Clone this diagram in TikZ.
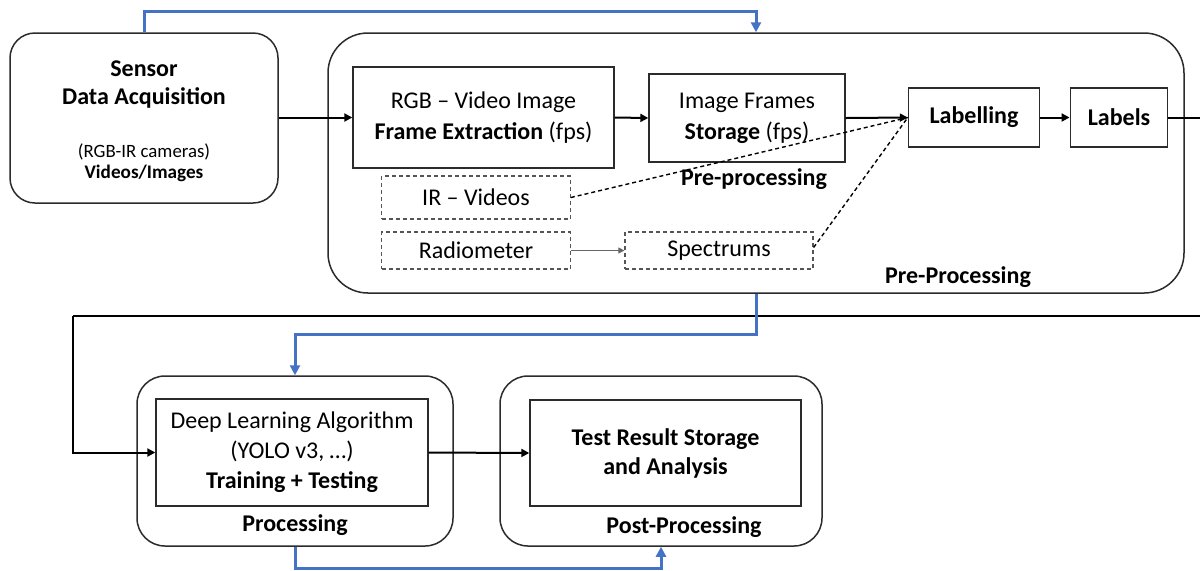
\documentclass[tikz,border=0pt]{standalone}
\usepackage{fontspec}
\setmainfont{Carlito}
\usetikzlibrary{arrows.meta}
\definecolor{flowblue}{HTML}{4472C4}
\definecolor{boxline}{HTML}{2B2B2B}
\begin{document}
\begin{tikzpicture}[x=0.5pt,y=-0.5pt,
  font=\fontsize{12}{14.5}\selectfont,
  roundbox/.style={draw=boxline,line width=0.75pt,rounded corners=#1,inner sep=0pt},
  plainbox/.style={draw=boxline,line width=0.7pt,inner sep=0pt,align=center},
  dashbox/.style={draw=boxline!80,line width=0.6pt,dash pattern=on 2pt off 1.5pt,inner sep=0pt,align=center},
  flow/.style={line width=1pt,draw=black,-{Triangle[length=4pt,width=4pt]}},
  blueflow/.style={line width=1.5pt,draw=flowblue,-{Triangle[length=5pt,width=5pt]}},
  dashline/.style={line width=0.7pt,dash pattern=on 2pt off 1.5pt},
  lbl/.style={font=\fontsize{12}{14.5}\selectfont\bfseries}
]
\useasboundingbox (0,0) rectangle (1200,570);
% big containers
\node[roundbox=12.5pt,minimum width=134pt,minimum height=85pt] (sensor) at (144,118) {};
\node[roundbox=20pt,minimum width=428pt,minimum height=130pt] (pre) at (756,163) {};
\node[roundbox=14pt,minimum width=158pt,minimum height=85pt] (proc) at (295,461) {};
\node[roundbox=14pt,minimum width=161pt,minimum height=85pt] (post) at (661,461) {};
% sensor texts
\node[lbl] (sensT) at (144,69) {Sensor};
\node[lbl] (sensD) at (144,98) {Data Acquisition};
\node[font=\fontsize{9.4}{11}\selectfont] (sensC) at (144,152) {(RGB-IR cameras)};
\node[font=\fontsize{9.6}{11}\selectfont\bfseries] (sensV) at (144,173) {Videos/Images};
% pre-processing boxes
\node[plainbox,minimum width=130.5pt,minimum height=50.5pt] (rgb) at (483.5,117.5)
  {\raisebox{-1pt}{}RGB -- Video Image\\[1pt]\textbf{Frame Extraction} (fps)};
\node[plainbox,minimum width=98pt,minimum height=44pt] (frames) at (747,118)
  {Image Frames\\[1pt]\textbf{Storage} (fps)};
\node[plainbox,minimum width=65.5pt,minimum height=29.5pt,font=\fontsize{12}{14.5}\selectfont\bfseries] (labelling) at (974,117.5) {Labelling};
\node[plainbox,minimum width=48.75pt,minimum height=29.5pt,font=\fontsize{12}{14.5}\selectfont\bfseries] (labels) at (1119,117.5) {Labels};
\node[dashbox,minimum width=94.25pt,minimum height=21.5pt] (ir) at (476,197.5) {IR -- Videos};
\node[dashbox,minimum width=94.25pt,minimum height=18.5pt] (radio) at (476,250.5) {Radiometer};
\node[dashbox,minimum width=94pt,minimum height=18.5pt] (spec) at (719,250.5) {Spectrums};
\node[lbl] (preA) at (754,179) {Pre-processing};
\node[lbl] (preB) at (958,277) {Pre-Processing};
% processing boxes
\node[plainbox,minimum width=136pt,minimum height=53.5pt] (dl) at (292,452.5)
  {Deep Learning Algorithm\\[0.5pt](YOLO v3, \dots)\\[0.5pt]\textbf{Training + Testing}};
\node[plainbox,minimum width=135.5pt,minimum height=53pt,font=\fontsize{12}{14.5}\selectfont\bfseries] (test) at (665.5,453)
  {Test Result Storage\\[0pt]and Analysis};
\node[lbl] (procL) at (295,525) {Processing};
\node[lbl] (postL) at (684,527) {Post-Processing};
% coordinates
\coordinate (exitA) at (1200,117.5);
\coordinate (exitB) at (1200,316);
\coordinate (turnL) at (73,316);
% connectors
\draw[blueflow] (sensor.north) -- ++(0,-21) -| (pre.north);
\draw[flow] (sensor.east |- rgb.west) -- (rgb.west);
\draw[flow] (rgb.east) -- (frames.west);
\draw[flow] (frames.east) -- (labelling.west);
\draw[flow] (labelling.east) -- (labels.west);
\draw[line width=1pt] (labels.east) -- (exitA);
\draw[dashline] (ir.east) -- (labelling.west);
\draw[dashline] ([yshift=1.5pt]spec.east) -- (labelling.west);
\draw[line width=0.5pt,draw=black!60,-{Triangle[length=3pt,width=3pt]}] (radio.east) -- (spec.west);
\draw[line width=1pt] (exitB) -- (turnL);
\draw[flow] (turnL) |- (dl.west);
\draw[blueflow] (pre.south) -- ++(0,41) -| (proc.north);
\draw[flow] (dl.east) -- (test.west);
\draw[blueflow] (proc.south) -- ++(0,22) -| (post.south);
\end{tikzpicture}
\end{document}
